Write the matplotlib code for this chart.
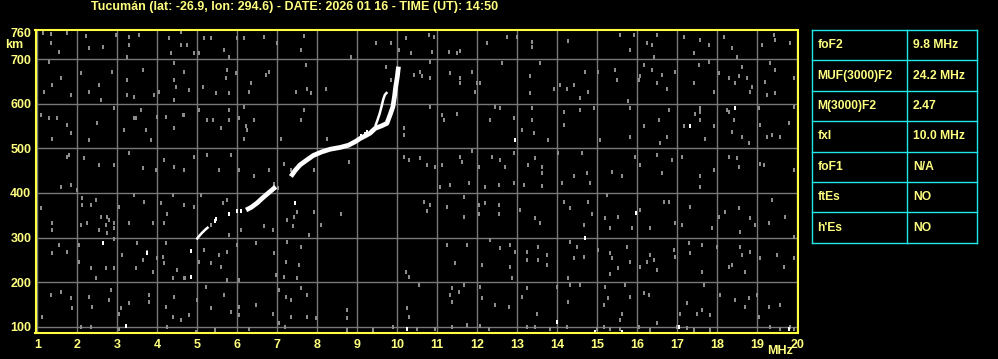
import numpy as np
import matplotlib.pyplot as plt

# --- ionogram header / scaled parameters ---
title = "Tucumán (lat: -26.9, lon: 294.6) - DATE: 2026 01 16 - TIME (UT): 14:50"
freq_ticks = list(range(1, 21))
height_ticks = [100, 200, 300, 400, 500, 600, 700, 760]

params = ["foF2", "MUF(3000)F2", "M(3000)F2", "fxI", "foF1", "ftEs", "h'Es"]
values = ["9.8 MHz", "24.2 MHz", "2.47", "10.0 MHz", "N/A", "NO", "NO"]

# --- echo traces (MHz, km) ---
trace_low = [(4.98, 296), (5.04, 303), (5.11, 310), (5.20, 318), (5.28, 324)]
trace_mid = [(6.22, 362), (6.35, 368), (6.50, 378), (6.62, 388), (6.75, 398),
             (6.87, 407), (6.96, 414)]
trace_high = [(7.34, 437), (7.45, 451), (7.57, 463), (7.74, 474), (7.90, 484),
              (8.11, 492), (8.32, 498), (8.57, 502), (8.78, 507), (8.95, 515),
              (9.07, 522), (9.20, 528), (9.32, 534), (9.45, 545), (9.60, 550),
              (9.74, 556), (9.82, 575), (9.89, 593), (9.93, 616), (9.96, 638),
              (10.00, 660), (10.03, 683)]
trace_branch = [(9.45, 550), (9.50, 562), (9.56, 578), (9.61, 595), (9.65, 610),
                (9.69, 620), (9.75, 626)]
white_specks = [(4.83, 271), (5.47, 341), (5.44, 338), (5.79, 352), (6.00, 360),
                (6.10, 360), (9.18, 531), (9.10, 528), (9.23, 537),
                (2.65, 289), (3.75, 266), (4.85, 270), (4.85, 213), (7.44, 378),
                (3.21, 103), (10.25, 95), (12.93, 519), (17.32, 551), (18.43, 590),
                (13.99, 112), (14.68, 300), (15.97, 356), (17.03, 101), (19.78, 95),
                (14.95, 89), (15.62, 89)]

# --- background noise specks (MHz, km) ---
noise_pts = [
    (1.15, 758), (1.35, 756), (1.35, 735), (1.54, 716), (1.75, 758), (2.21, 752),
    (2.29, 724), (2.65, 728), (2.96, 754), (3.29, 750), (3.29, 731), (3.54, 754),
    (3.25, 705), (4.29, 746), (4.33, 713), (4.58, 761), (4.58, 731), (4.75, 731),
    (4.92, 713), (5.04, 713), (5.17, 746), (5.33, 746), (5.67, 720), (5.79, 705),
    (6.00, 746), (6.17, 746), (6.67, 750), (7.00, 735), (7.67, 752), (7.58, 720),
    (8.83, 705), (9.46, 735), (9.83, 737), (10.04, 720), (10.21, 746), (10.33, 713),
    (1.29, 694), (1.17, 627), (1.38, 642), (1.58, 657), (1.83, 619), (2.08, 668),
    (2.29, 627), (2.54, 642), (2.58, 608), (2.88, 672), (3.25, 653), (3.25, 619),
    (3.42, 616), (3.63, 675), (3.92, 619), (4.04, 627), (4.42, 690), (4.42, 653),
    (4.46, 638), (4.42, 608), (4.67, 672), (4.79, 631), (5.13, 638), (5.46, 623),
    (5.71, 657), (5.75, 675), (5.79, 623), (5.96, 668), (6.33, 646), (6.29, 627),
    (6.71, 664), (6.79, 672), (7.46, 627), (7.71, 687), (7.75, 634), (7.83, 623),
    (8.21, 634), (9.71, 683), (9.83, 653), (10.42, 664),
    (1.08, 575), (1.29, 567), (1.50, 567), (1.38, 522), (1.75, 552), (1.83, 534),
    (2.29, 519), (2.50, 556), (2.92, 590), (3.17, 541), (3.42, 567), (3.46, 567),
    (3.58, 586), (3.71, 541), (3.83, 519), (4.00, 571), (4.21, 571), (4.42, 545),
    (4.63, 575), (4.67, 575), (5.04, 586), (5.25, 563), (5.38, 563), (5.58, 545),
    (5.79, 563), (5.79, 586), (6.04, 567), (6.17, 593), (6.21, 549), (6.25, 541),
    (6.17, 522), (6.42, 563), (7.08, 522), (7.58, 563), (7.67, 586), (8.25, 522),
    (10.17, 545), (10.17, 530),
    (1.75, 481), (1.79, 485), (2.17, 478), (2.54, 463), (2.92, 463), (3.29, 489),
    (3.63, 455), (3.96, 452), (4.17, 474), (4.42, 459), (4.67, 452), (4.92, 481),
    (5.25, 485), (5.54, 452), (5.83, 485), (6.04, 452), (6.42, 437), (6.79, 452),
    (7.17, 466), (7.33, 452), (7.92, 452), (8.79, 470), (10.17, 481), (10.29, 474),
    (10.78, 754), (10.91, 750), (10.87, 716), (11.28, 716), (11.49, 713), (11.57, 719),
    (12.24, 735), (12.74, 750), (12.99, 750), (13.37, 739), (13.37, 728), (14.28, 740),
    (15.57, 754), (15.91, 754), (15.82, 720), (16.24, 735), (16.37, 731), (16.49, 754),
    (16.41, 705), (17.16, 750), (17.57, 743), (17.78, 731), (17.41, 713), (18.16, 750),
    (18.37, 724), (18.49, 705), (19.12, 731), (19.41, 754), (19.45, 743), (19.82, 735),
    (10.57, 672), (10.62, 661), (10.82, 657), (10.82, 694), (11.32, 668), (11.57, 657),
    (11.57, 646), (11.87, 672), (11.99, 646), (11.95, 627), (12.07, 646), (12.62, 690),
    (13.32, 661), (13.32, 623), (13.57, 690), (13.91, 634), (14.07, 642), (14.24, 634),
    (14.41, 642), (14.57, 612), (14.70, 672), (14.78, 627), (15.03, 672), (15.45, 675),
    (15.49, 653), (16.03, 653), (16.07, 661), (16.16, 687), (16.37, 675), (16.49, 646),
    (16.62, 664), (16.74, 634), (16.95, 672), (17.41, 646), (17.53, 687), (17.78, 694),
    (17.91, 627), (18.03, 668), (18.28, 657), (18.45, 646), (18.53, 661), (18.62, 683),
    (18.74, 657), (18.87, 638), (18.82, 627), (19.20, 649), (19.24, 619), (19.32, 690),
    (19.45, 675), (19.45, 623), (19.91, 657),
    (10.82, 593), (11.12, 575), (11.16, 563), (11.49, 578), (12.32, 563), (12.45, 593),
    (12.57, 590), (12.91, 567), (13.12, 541), (13.37, 590), (13.37, 563), (13.41, 534),
    (13.78, 519), (14.16, 582), (14.16, 552), (14.57, 586), (14.91, 590), (15.07, 519),
    (15.78, 605), (15.82, 590), (15.82, 526), (16.16, 549), (16.53, 563), (16.57, 511),
    (16.78, 586), (16.74, 526), (17.16, 549), (17.45, 578), (17.57, 590), (17.57, 582),
    (17.57, 563), (17.70, 522), (17.91, 549), (18.24, 586), (18.28, 582), (18.41, 563),
    (18.37, 537), (18.62, 526), (18.78, 511), (19.03, 590), (19.07, 552), (19.24, 526),
    (19.37, 530), (19.57, 526), (19.78, 556), (19.91, 593),
    (10.57, 478), (10.74, 463), (10.95, 459), (11.12, 463), (11.57, 481), (11.61, 470),
    (11.87, 493), (12.03, 459), (12.37, 481), (12.57, 474), (12.70, 459), (12.91, 489),
    (13.28, 463), (13.45, 478), (13.62, 459), (13.62, 444), (14.03, 489), (14.41, 437),
    (14.62, 489), (14.74, 444), (15.37, 448), (15.62, 437), (15.95, 481), (16.07, 463),
    (16.49, 485), (16.62, 444), (16.87, 474), (17.12, 481), (17.57, 437), (17.91, 452),
    (18.28, 481), (18.49, 478), (18.53, 459), (19.07, 466), (19.16, 463), (19.91, 452),
    (1.58, 414), (1.83, 418), (2.00, 407), (1.08, 366), (1.38, 332), (1.38, 317),
    (2.13, 388), (2.13, 373), (2.33, 373), (2.46, 384), (2.08, 328), (2.25, 332),
    (2.58, 347), (2.75, 347), (2.54, 317), (2.71, 328), (2.79, 339), (2.92, 332),
    (2.92, 321), (2.75, 310), (2.92, 298), (3.04, 369), (3.29, 332), (3.42, 395),
    (3.67, 380), (3.88, 332), (4.08, 377), (4.25, 354), (4.17, 332), (4.38, 395),
    (4.67, 373), (4.92, 369), (5.08, 395), (5.63, 377), (5.75, 384), (5.79, 306),
    (6.08, 317), (6.67, 325), (6.88, 317), (7.25, 339), (7.42, 347), (7.50, 358),
    (7.38, 325), (7.79, 306), (7.92, 358), (8.08, 328), (8.58, 354),
    (1.54, 283), (1.38, 265), (1.75, 269), (2.04, 283), (2.04, 246), (2.33, 231),
    (2.46, 209), (2.71, 231), (2.92, 231), (3.13, 261), (3.50, 287), (3.63, 250),
    (3.46, 231), (3.75, 269), (3.88, 224), (4.00, 254), (4.13, 257), (4.21, 287),
    (4.17, 243), (4.38, 209), (4.50, 228), (4.67, 209), (4.70, 210), (5.04, 246),
    (5.17, 272), (5.33, 243), (5.54, 261), (5.58, 235), (5.75, 269), (5.75, 205),
    (6.00, 283), (6.04, 205), (6.46, 287), (6.92, 265), (6.96, 216), (7.17, 213),
    (7.21, 246), (7.25, 291), (7.50, 209), (7.54, 239), (7.58, 280), (10.21, 224),
    (10.29, 213), (5.35, 328), (6.92, 420), (7.02, 412),
    (1.58, 179), (1.33, 172), (1.83, 164), (1.88, 142), (2.29, 168), (2.38, 145),
    (2.83, 183), (2.79, 160), (3.04, 130), (3.08, 142), (3.29, 153), (3.79, 172),
    (3.79, 157), (4.21, 145), (4.38, 123), (4.42, 168), (4.58, 116), (4.79, 127),
    (5.00, 160), (5.21, 190), (5.33, 142), (5.67, 172), (5.83, 134), (6.04, 145),
    (6.04, 127), (6.46, 149), (6.88, 130), (7.04, 183), (7.21, 168), (7.33, 123),
    (7.33, 160), (7.58, 187), (7.75, 172), (7.75, 123), (7.96, 119), (8.75, 138),
    (8.75, 119), (10.25, 142), (10.29, 123), (1.13, 123), (2.33, 101), (4.25, 101),
    (4.96, 89), (7.04, 108), (8.75, 93), (2.10, 101), (3.05, 95), (5.45, 93),
    (6.30, 95), (7.20, 101), (9.40, 93), (9.90, 101),
    (11.07, 414), (11.32, 418), (11.78, 422), (12.20, 414), (12.53, 418), (12.91, 423),
    (13.16, 418), (13.62, 416), (14.12, 422), (14.82, 422), (10.66, 380), (10.82, 373),
    (10.74, 360), (11.24, 369), (11.66, 392), (11.66, 347), (12.03, 373), (12.03, 354),
    (12.20, 377), (12.53, 373), (12.53, 354), (13.07, 363), (13.45, 343), (13.57, 332),
    (14.16, 380), (14.32, 366), (14.66, 328), (14.78, 380), (14.87, 354), (15.24, 395),
    (15.20, 343), (15.32, 321), (15.53, 347), (15.87, 321), (16.07, 362), (16.32, 321),
    (16.66, 380), (16.78, 380), (16.95, 332), (17.12, 328), (17.32, 369), (17.57, 414),
    (17.87, 321), (18.03, 347), (18.20, 358), (18.53, 366), (18.57, 313), (18.82, 343),
    (18.95, 328), (19.28, 332), (19.37, 384), (19.70, 347), (19.91, 302),
    (11.24, 283), (11.74, 283), (11.45, 243), (12.12, 239), (12.32, 295), (12.57, 276),
    (12.82, 283), (12.95, 269), (12.82, 235), (12.87, 209), (13.24, 269), (13.24, 250),
    (13.53, 280), (13.53, 250), (13.74, 261), (13.74, 239), (14.32, 291), (14.41, 254),
    (14.66, 257), (14.49, 280), (14.28, 209), (15.03, 272), (15.32, 265), (15.37, 254),
    (15.53, 231), (15.32, 218), (15.74, 280), (15.82, 246), (16.07, 235), (16.24, 246),
    (16.32, 261), (16.41, 250), (16.49, 228), (16.91, 272), (16.95, 257), (17.28, 287),
    (17.32, 265), (17.62, 283), (17.62, 224), (17.99, 280), (18.28, 235), (18.37, 239),
    (18.57, 280), (18.62, 261), (18.70, 224), (18.82, 269), (19.07, 254), (19.49, 261),
    (19.66, 235), (19.91, 254),
    (10.53, 194), (11.37, 187), (11.32, 172), (11.53, 179), (11.37, 157), (11.66, 194),
    (12.12, 164), (12.07, 190), (12.45, 149), (12.78, 145), (13.12, 168), (13.24, 187),
    (13.49, 130), (13.99, 190), (14.28, 157), (14.32, 194), (14.57, 194), (15.16, 149),
    (15.28, 164), (15.20, 190), (15.62, 130), (15.57, 116), (15.70, 194), (15.82, 168),
    (16.16, 175), (16.28, 172), (16.49, 108), (17.07, 130), (17.24, 153), (17.49, 130),
    (17.62, 138), (17.82, 127), (17.66, 194), (18.07, 172), (18.45, 160), (18.70, 145),
    (18.78, 164), (19.00, 172), (19.03, 123), (19.28, 145), (19.57, 149),
    (10.49, 95), (10.95, 95), (11.37, 101), (11.74, 104), (12.07, 102), (12.28, 95),
    (13.24, 101), (13.45, 101), (13.82, 95), (14.24, 101), (14.99, 95), (15.16, 101),
    (15.32, 95), (15.57, 95), (16.03, 101), (16.32, 93), (16.99, 101), (17.24, 98),
    (17.41, 93), (17.82, 93), (19.32, 101), (19.57, 95), (19.82, 101), (19.91, 95),
]

YELLOW = '#ffff80'
BORDER = '#ffff40'
GRID = '#787878'
NOISE = '#8c8c8c'
CYAN = '#20e8e8'
FONT = 'Liberation Sans'

plt.rcParams['font.family'] = [FONT, 'DejaVu Sans']
plt.rcParams['font.weight'] = 'bold'

W, H = 998, 359
fig = plt.figure(figsize=(W / 100, H / 100), dpi=100, facecolor='black')
ax = fig.add_axes([35.5 / W, 1 - 333 / H, 762 / W, 303 / H], facecolor='black')

# noise and traces
rect = [(-1, -1.5), (1, -1.5), (1, 1.5), (-1, 1.5), (-1, -1.5)]
nf, nh = zip(*noise_pts)
ax.scatter(nf, nh, s=6.5, marker=rect, color=NOISE, linewidths=0, zorder=2)

for seg, lw in [(trace_low, 1.8), (trace_mid, 3.4), (trace_high, 3.4), (trace_branch, 1.8)]:
    f, h = zip(*seg)
    ax.plot(f, h, color='white', lw=lw, solid_capstyle='butt', zorder=3)
wf, wh = zip(*white_specks)
ax.scatter(wf, wh, s=7, marker=rect, color='white', linewidths=0, zorder=3)

ax.set_xlim(0.955, 20.005)
ax.set_ylim(86.5, 765)
ax.set_xticks(freq_ticks)
ax.set_yticks(height_ticks)
ax.grid(True, color=GRID, lw=1.0, zorder=1)
ax.get_ygridlines()[-1].set_visible(False)
ax.tick_params(axis='both', length=0, colors=YELLOW, labelsize=9)
ax.tick_params(axis='x', pad=4.5)
ax.tick_params(axis='y', pad=3.0)
for lbl in ax.get_xticklabels() + ax.get_yticklabels():
    lbl.set_fontweight('bold')
for sp in ax.spines.values():
    sp.set_color(BORDER)
    sp.set_linewidth(1.5)
    sp.set_zorder(4)

fig.text(91 / W, 1 - 7 / H, title, color=YELLOW, fontsize=9.0, fontweight='bold',
         ha='left', va='center')
fig.text(14 / W, 1 - 45 / H, 'km', color=YELLOW, fontsize=9, fontweight='bold',
         ha='center', va='center')
fig.text(780 / W, 1 - 351 / H, 'MHz', color=YELLOW, fontsize=9, fontweight='bold',
         ha='center', va='center')

# parameter table
tx = fig.add_axes([812 / W, 1 - 242.7 / H, 165.3 / W, 212.7 / H])
tx.set_xlim(0, 1)
tx.set_ylim(len(params), 0)
tx.axis('off')
split = 0.576
for i in range(len(params) + 1):
    tx.plot([0, 1], [i, i], color=CYAN, lw=1.0, clip_on=False)
for x in (0, split, 1):
    tx.plot([x, x], [0, len(params)], color=CYAN, lw=1.0, clip_on=False)
for i, (p, v) in enumerate(zip(params, values)):
    tx.text(0.032, i + 0.5, p, color=YELLOW, fontsize=8.7, fontweight='bold',
            ha='left', va='center')
    tx.text(split + 0.035, i + 0.5, v, color=YELLOW, fontsize=8.7, fontweight='bold',
            ha='left', va='center')

fig.savefig('out.png', dpi=100, facecolor='black')
